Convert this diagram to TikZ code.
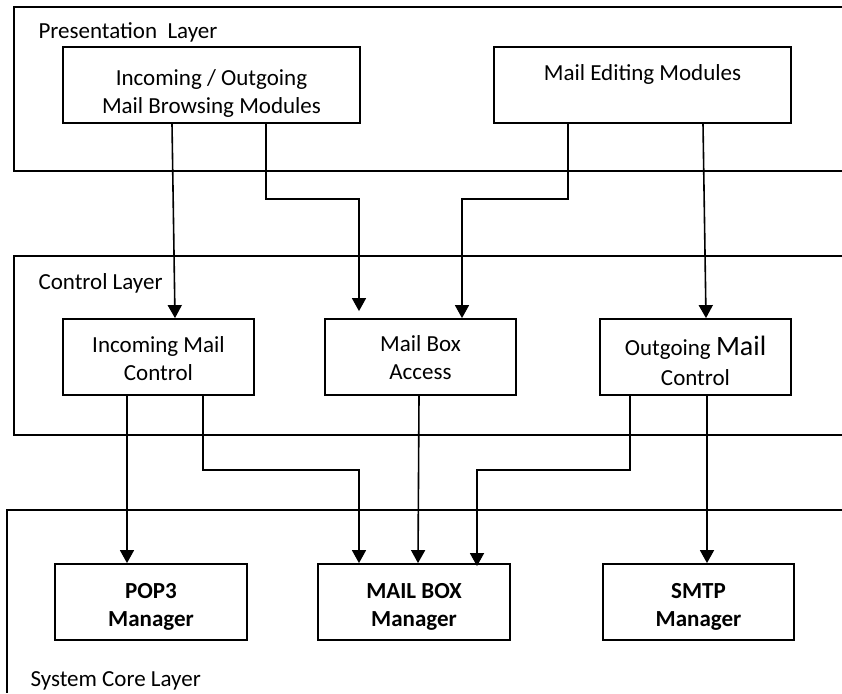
\documentclass[tikz,border=0pt]{standalone}
\usepackage{fontspec}
\setmainfont{Carlito}
\usepackage{tikz}
\usetikzlibrary{arrows.meta}

\tikzset{
  layer/.style={line width=2.2pt},
  modbox/.style={draw, line width=1.8pt, inner sep=0pt, minimum height=76pt,
    align=center, text height=50pt, text depth=4pt},
  corebox/.style={modbox, font=\fontsize{23}{28}\selectfont\bfseries, text height=52pt},
  conn/.style={line width=1.6pt, -{Triangle[width=14pt,length=13pt]}}
}

\begin{document}
\begin{tikzpicture}[x=1pt,y=-1pt,font=\fontsize{23}{28}\selectfont]
    \useasboundingbox (0,0) rectangle (842,693);
    \draw[layer] (842,7) -| (14,171) -- (842,171);
    \draw[layer] (842,256) -| (14,435) -- (842,435);
    \draw[layer] (842,510) -| (7,693);
    \node[anchor=base west] (preslbl) at (35,39) {Presentation\ \ Layer};
    \node[anchor=base west] (ctrllbl) at (35,289) {Control Layer};
    \node[anchor=base west] (corelbl) at (27,686) {System Core Layer};

    \node[modbox, minimum width=297pt, text height=60pt] (browse) at (211.5,85) {Incoming / Outgoing\\Mail Browsing Modules};
    \node[modbox, minimum width=297pt, text height=18pt, text depth=28pt] (editing) at (642.5,85) {Mail Editing Modules};
    \node[modbox, minimum width=191pt] (inctrl) at (158.5,357) {Incoming Mail\\Control};
    \node[modbox, minimum width=191pt, text height=48pt] (mbaccess) at (420.5,357) {Mail Box\\Access};
    \node[modbox, minimum width=191pt, text height=61pt] (outctrl) at (695.5,357) {Outgoing {\fontsize{28}{34}\selectfont Mail}\\[2pt]Control};
    \node[corebox, minimum width=192pt] (pop3) at (151,602) {POP3\\Manager};
    \node[corebox, minimum width=192pt] (mbmgr) at (414,602) {MAIL BOX\\Manager};
    \node[corebox, minimum width=191pt] (smtp) at (698.5,602) {SMTP\\Manager};

    \draw[conn] ([xshift=-39.5pt]browse.south) -- ([xshift=16.5pt]inctrl.north);
    \draw[conn, shorten >=7pt] ([xshift=54.5pt]browse.south) -- ++(0,75) -| ([xshift=-61.5pt]mbaccess.north);
    \draw[conn] ([xshift=-74.5pt]editing.south) -- ++(0,75) -| ([xshift=41.5pt]mbaccess.north);
    \draw[conn] ([xshift=60.5pt]editing.south) -- ([xshift=10.5pt]outctrl.north);
    \draw[conn] ([xshift=-31.5pt]inctrl.south) -- ([xshift=-24pt]pop3.north);
    \draw[conn] ([xshift=44.5pt]inctrl.south) -- ++(0,74) -| ([xshift=-55pt]mbmgr.north);
    \draw[conn] ([xshift=-1.5pt]mbaccess.south) -- ([xshift=4pt]mbmgr.north);
    \draw[conn, shorten >=-3pt] ([xshift=-65.5pt]outctrl.south) -- ++(0,74) -| ([xshift=63pt]mbmgr.north);
    \draw[conn] ([xshift=11.5pt]outctrl.south) -- ([xshift=8.5pt]smtp.north);
\end{tikzpicture}
\end{document}
